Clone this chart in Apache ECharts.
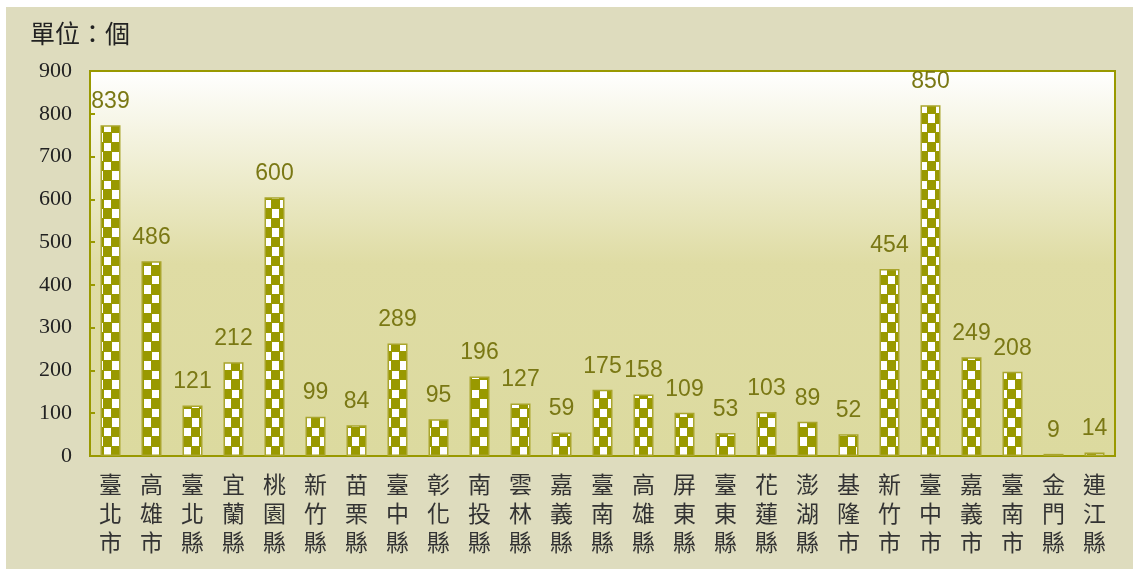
<!DOCTYPE html>
<html>
<head>
<meta charset="utf-8">
<script src="https://cdn.jsdelivr.net/npm/echarts@6/dist/echarts.min.js"></script>
<style>
html,body{margin:0;padding:0;background:#fff;}
#chart{width:1133px;height:569px;background:#dedcbe;box-shadow:inset 6px 7px 0 #ffffff;}
</style>
</head>
<body>
<div id="chart"></div>
<script>
// Categories (stacked vertically in the picture)
const categories = ['臺北市','高雄市','臺北縣','宜蘭縣','桃園縣','新竹縣','苗栗縣','臺中縣','彰化縣','南投縣','雲林縣','嘉義縣','臺南縣','高雄縣','屏東縣','臺東縣','花蓮縣','澎湖縣','基隆市','新竹市','臺中市','嘉義市','臺南市','金門縣','連江縣'];
// Values printed above the bars
const values = [839,486,121,212,600,99,84,289,95,196,127,59,175,158,109,53,103,89,52,454,850,249,208,9,14];
const barHeights = [773,455,118,219,605,92,72,263,86,186,123,55,155,144,101,54,103,80,51,437,820,231,197,5,8];
const yTicks = {min:0, max:900, interval:100};
const unitText = '單位：個';

const olive = '#999900';

// checker pattern tile
const tile = document.createElement('canvas');
tile.width = 16; tile.height = 19;
const ctx = tile.getContext('2d');
ctx.fillStyle = olive; ctx.fillRect(0,0,16,19);
ctx.fillStyle = '#ffffff';
ctx.fillRect(0,0,7,9);
ctx.fillRect(8,10,7,8);

const chart = echarts.init(document.getElementById('chart'), null, {renderer:'canvas'});
chart.setOption({
  backgroundColor: 'transparent',
  animation: false,
  title: {
    text: unitText, left: 25, top: 16,
    textStyle: {fontFamily: '"Noto Sans CJK TC"', fontSize: 25, fontWeight: 'normal', color: '#222'}
  },
  grid: {
    left: 90, right: 18, top: 71, bottom: 113,
    show: true, borderColor: olive, borderWidth: 2,
    backgroundColor: {type:'linear', x:0, y:0, x2:0, y2:1, colorStops:[
      {offset:0, color:'#ffffff'},
      {offset:0.5, color:'#dfdca4'},
      {offset:1, color:'#dcda9f'}
    ]}
  },
  xAxis: {
    type: 'category',
    data: categories,
    axisLine: {lineStyle: {color: olive, width: 2}},
    axisTick: {inside: true, length: 8, lineStyle: {color: olive, width: 2}},
    axisLabel: {
      interval: 0, margin: 14,
      formatter: v => v.split('').join('\n'),
      fontFamily: '"Noto Sans CJK TC"', fontSize: 23, lineHeight: 29, color: '#333'
    }
  },
  yAxis: {
    type: 'value', min: yTicks.min, max: yTicks.max, interval: yTicks.interval,
    axisLine: {show: true, lineStyle: {color: olive, width: 2}},
    axisTick: {show: true, inside: true, length: 5, lineStyle: {color: olive, width: 2}},
    splitLine: {show: false},
    axisLabel: {margin: 18, fontFamily: '"Liberation Serif"', fontSize: 22, color: '#222'}
  },
  series: [{
    type: 'bar',
    data: barHeights,
    barWidth: 20,
    itemStyle: {
      color: {image: tile, repeat: 'repeat'},
      borderColor: '#a9a52c', borderWidth: 1.5
    },
    label: {
      show: true, position: 'top', distance: 12,
      formatter: p => String(values[p.dataIndex]),
      fontFamily: '"Liberation Sans"', fontSize: 23, color: '#7a7814'
    }
  }]
});
</script>
</body>
</html>
